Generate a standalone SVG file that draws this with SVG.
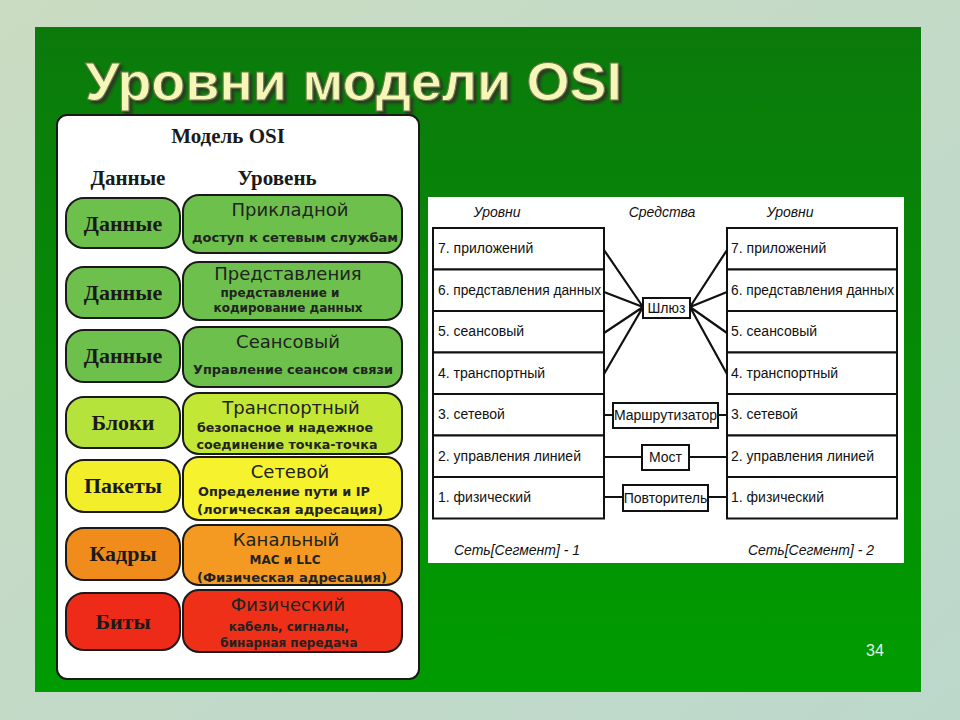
<svg xmlns="http://www.w3.org/2000/svg" width="960" height="720" viewBox="0 0 960 720">
<defs>
<linearGradient id="bg" x1="0" y1="0" x2="1" y2="1">
<stop offset="0" stop-color="#cadcc2"/><stop offset="1" stop-color="#bcd8cc"/>
</linearGradient>
<linearGradient id="panel" x1="0" y1="0" x2="0" y2="1">
<stop offset="0" stop-color="#0b7a0b"/><stop offset="1" stop-color="#009c00"/>
</linearGradient>
<filter id="shadow" x="-5%" y="-20%" width="110%" height="140%">
<feDropShadow dx="3" dy="3" stdDeviation="0.8" flood-color="#2a3a20" flood-opacity="0.95"/>
</filter>
<style>
.pill{stroke:#1a1a1a;stroke-width:2}
.lbl{font-family:"Liberation Serif",serif;font-weight:bold;font-size:22px;fill:#1a1a1a;text-anchor:middle}
.ttl{font-family:"DejaVu Sans",sans-serif;font-size:18px;fill:#222;text-anchor:middle}
.sub{font-family:"DejaVu Sans",sans-serif;font-weight:bold;font-size:12px;fill:#222;text-anchor:middle}
.cell{fill:#fff;stroke:#111;stroke-width:2}
.ct{font-family:"Liberation Sans",sans-serif;font-size:14px;fill:#111}
.hd{font-family:"Liberation Sans",sans-serif;font-style:italic;font-size:14px;fill:#111;text-anchor:middle}
.box{fill:#fff;stroke:#111;stroke-width:2}
.bt{font-family:"Liberation Sans",sans-serif;font-size:14px;fill:#111;text-anchor:middle}
.ln{stroke:#111;stroke-width:2.2;fill:none}
</style>
</defs>
<rect width="960" height="720" fill="url(#bg)"/>
<rect x="35" y="27" width="886" height="665" fill="url(#panel)"/>
<g id="title">
<text x="85" y="100" font-family="Liberation Sans,sans-serif" font-weight="bold" font-size="53" fill="#f6f6b8" stroke="#6a7a4a" stroke-width="1" textLength="537" lengthAdjust="spacingAndGlyphs" filter="url(#shadow)">Уровни модели OSI</text>
</g>
<g id="osi-model">
<rect x="57" y="115" width="362" height="564" rx="10" fill="#fff" stroke="#1a1a1a" stroke-width="2"/>
<text x="228" y="143" font-family="Liberation Serif,serif" font-weight="bold" font-size="21" fill="#1a1a1a" text-anchor="middle">Модель OSI</text>
<text x="128" y="185" font-family="Liberation Serif,serif" font-weight="bold" font-size="21" fill="#1a1a1a" text-anchor="middle">Данные</text>
<text x="277" y="185" font-family="Liberation Serif,serif" font-weight="bold" font-size="21" fill="#1a1a1a" text-anchor="middle">Уровень</text>
</g>
<g id="row7">
<rect class="pill" x="66" y="198" width="114" height="50" rx="18" fill="#6dc04b"/>
<text class="lbl" x="123" y="231">Данные</text>
<rect class="pill" x="183" y="195" width="219" height="58" rx="16" fill="#6dc04b"/>
<text class="ttl" x="290" y="216">Прикладной</text>
<text class="sub" x="295" y="242" textLength="206" lengthAdjust="spacingAndGlyphs">доступ к сетевым службам</text>
</g>
<g id="row6">
<rect class="pill" x="66" y="267" width="114" height="51" rx="18" fill="#6dc04b"/>
<text class="lbl" x="123" y="300">Данные</text>
<rect class="pill" x="183" y="262" width="219" height="58" rx="16" fill="#6dc04b"/>
<text class="ttl" x="288" y="280">Представления</text>
<text class="sub" x="280" y="297">представление и</text>
<text class="sub" x="288" y="312">кодирование данных</text>
</g>
<g id="row5">
<rect class="pill" x="66" y="330" width="114" height="52" rx="18" fill="#6dc04b"/>
<text class="lbl" x="123" y="363">Данные</text>
<rect class="pill" x="183" y="327" width="219" height="60" rx="16" fill="#6dc04b"/>
<text class="ttl" x="288" y="348">Сеансовый</text>
<text class="sub" x="293" y="374" textLength="200" lengthAdjust="spacingAndGlyphs">Управление сеансом связи</text>
</g>
<g id="row4">
<rect class="pill" x="66" y="397" width="114" height="51" rx="18" fill="#b6e23c"/>
<text class="lbl" x="123" y="430">Блоки</text>
<rect class="pill" x="183" y="393" width="219" height="61" rx="16" fill="#c2e835"/>
<text class="ttl" x="291" y="414">Транспортный</text>
<text class="sub" x="285" y="432" textLength="176" lengthAdjust="spacingAndGlyphs">безопасное и надежное</text>
<text class="sub" x="287" y="449" textLength="181" lengthAdjust="spacingAndGlyphs">соединение точка-точка</text>
</g>
<g id="row3">
<rect class="pill" x="66" y="460" width="114" height="52" rx="18" fill="#f2ee2a"/>
<text class="lbl" x="123" y="493">Пакеты</text>
<rect class="pill" x="183" y="457" width="219" height="63" rx="16" fill="#f6f22e"/>
<text class="ttl" x="290" y="478">Сетевой</text>
<text class="sub" x="284" y="496" textLength="172" lengthAdjust="spacingAndGlyphs">Определение пути и IP</text>
<text class="sub" x="290" y="514" textLength="186" lengthAdjust="spacingAndGlyphs">(логическая адресация)</text>
</g>
<g id="row2">
<rect class="pill" x="66" y="528" width="114" height="52" rx="18" fill="#f08c1c"/>
<text class="lbl" x="123" y="561">Кадры</text>
<rect class="pill" x="183" y="525" width="219" height="60" rx="16" fill="#f49a22"/>
<text class="ttl" x="286" y="546">Канальный</text>
<text class="sub" x="285" y="564">MAC и LLC</text>
<text class="sub" x="292" y="582" textLength="190" lengthAdjust="spacingAndGlyphs">(Физическая адресация)</text>
</g>
<g id="row1">
<rect class="pill" x="66" y="593" width="114" height="57" rx="18" fill="#ee2a18"/>
<text class="lbl" x="123" y="629">Биты</text>
<rect class="pill" x="183" y="590" width="219" height="62" rx="16" fill="#ee3018"/>
<text class="ttl" x="288" y="611">Физический</text>
<text class="sub" x="289" y="631">кабель, сигналы,</text>
<text class="sub" x="289" y="647">бинарная передача</text>
</g>
<g id="devices-panel">
<rect x="428" y="197" width="476" height="366" fill="#fff"/>
<text class="hd" x="497" y="217">Уровни</text>
<text class="hd" x="662" y="217">Средства</text>
<text class="hd" x="790" y="217">Уровни</text>
<text class="hd" x="517" y="555">Сеть[Сегмент] - 1</text>
<text class="hd" x="811" y="555">Сеть[Сегмент] - 2</text>
</g>
<g id="left-stack">
<rect class="cell" x="433" y="228" width="171" height="41.5"/>
<rect class="cell" x="433" y="269.5" width="171" height="41.5"/>
<rect class="cell" x="433" y="311" width="171" height="41.5"/>
<rect class="cell" x="433" y="352.5" width="171" height="41.5"/>
<rect class="cell" x="433" y="394" width="171" height="41.5"/>
<rect class="cell" x="433" y="435.5" width="171" height="41.5"/>
<rect class="cell" x="433" y="477" width="171" height="41.5"/>
<text class="ct" x="438" y="253">7. приложений</text>
<text class="ct" x="438" y="295" textLength="163" lengthAdjust="spacingAndGlyphs">6. представления данных</text>
<text class="ct" x="438" y="336">5. сеансовый</text>
<text class="ct" x="438" y="378">4. транспортный</text>
<text class="ct" x="438" y="419">3. сетевой</text>
<text class="ct" x="438" y="461">2. управления линией</text>
<text class="ct" x="438" y="502">1. физический</text>
</g>
<g id="right-stack">
<rect class="cell" x="727" y="228" width="170" height="41.5"/>
<rect class="cell" x="727" y="269.5" width="170" height="41.5"/>
<rect class="cell" x="727" y="311" width="170" height="41.5"/>
<rect class="cell" x="727" y="352.5" width="170" height="41.5"/>
<rect class="cell" x="727" y="394" width="170" height="41.5"/>
<rect class="cell" x="727" y="435.5" width="170" height="41.5"/>
<rect class="cell" x="727" y="477" width="170" height="41.5"/>
<text class="ct" x="731" y="253">7. приложений</text>
<text class="ct" x="731" y="295" textLength="163" lengthAdjust="spacingAndGlyphs">6. представления данных</text>
<text class="ct" x="731" y="336">5. сеансовый</text>
<text class="ct" x="731" y="378">4. транспортный</text>
<text class="ct" x="731" y="419">3. сетевой</text>
<text class="ct" x="731" y="461">2. управления линией</text>
<text class="ct" x="731" y="502">1. физический</text>
</g>
<g id="connectors">
<path class="ln" d="M604 250L643 307M604 292L643 307M604 333L643 307M604 374L643 307"/>
<path class="ln" d="M690 307L727 250M690 307L727 292M690 307L727 333M690 307L727 374"/>
<path class="ln" d="M604 415H613M718 415H727M604 457H642M689 457H727M604 497H623M708 497H727"/>
</g>
<g id="gateway">
<rect class="box" x="643" y="298" width="47" height="20"/>
<text class="bt" x="666.5" y="313">Шлюз</text>
</g>
<g id="router">
<rect class="box" x="613" y="403" width="105" height="25"/>
<text class="bt" x="665.5" y="420">Маршрутизатор</text>
</g>
<g id="bridge">
<rect class="box" x="642" y="445" width="47" height="25"/>
<text class="bt" x="665.5" y="462">Мост</text>
</g>
<g id="repeater">
<rect class="box" x="623" y="485" width="85" height="26"/>
<text class="bt" x="665.5" y="503">Повторитель</text>
</g>
<text x="875" y="656" font-family="Liberation Sans,sans-serif" font-size="16" fill="#e6f0e6" text-anchor="middle">34</text>
</svg>
